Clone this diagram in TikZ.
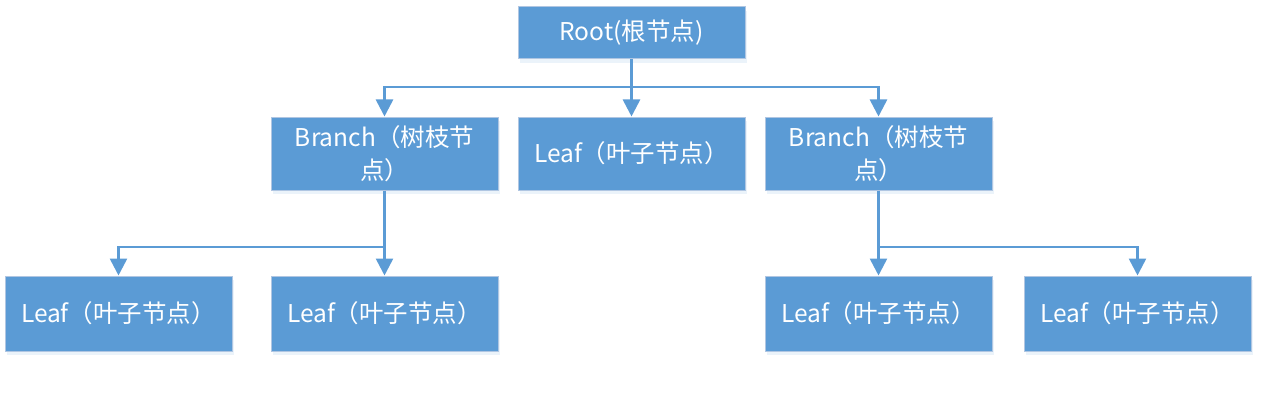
\documentclass[tikz,border=0pt]{standalone}
\usepackage{fontspec}
\setmainfont{Noto Sans CJK SC}
\usetikzlibrary{arrows.meta,shadows}
\definecolor{boxblue}{HTML}{5B9BD5}
\definecolor{boxedge}{HTML}{B0C6E2}
\begin{document}
\begin{tikzpicture}[x=1pt,y=-1pt,
  box/.style={fill=boxblue,draw=boxedge,line width=1pt,minimum width=227pt,
    text=white,align=center,inner sep=0pt,
    font=\fontsize{24.5}{33}\selectfont,
    drop shadow={opacity=0.12,shadow xshift=1.5pt,shadow yshift=-4pt,fill=boxblue}},
  rootbox/.style={box,minimum height=52pt},
  midbox/.style={box,minimum height=73pt},
  lowbox/.style={box,minimum height=75pt},
  conn/.style={draw=boxblue,line width=2.6pt},
  arr/.style={conn,-{Triangle[width=17pt,length=17pt]}}]
\useasboundingbox (0,0) rectangle (1278,404);
\node[rootbox] (root) at (631.5,33) {Root(根节点)};
\node[midbox] (b1) at (384.5,153.5) {Branch（树枝节\\点）};
\node[midbox] (lm) at (631.5,153.5) {Leaf（叶子节点）};
\node[midbox] (b2) at (878.5,153.5) {Branch（树枝节\\点）};
\node[lowbox] (l1) at (118.5,313.5) {Leaf（叶子节点）};
\node[lowbox] (l2) at (384.5,313.5) {Leaf（叶子节点）};
\node[lowbox] (l3) at (878.5,313.5) {Leaf（叶子节点）};
\node[lowbox] (l4) at (1137.5,313.5) {Leaf（叶子节点）};
\coordinate (j1) at (631.5,87);
\coordinate (j2) at (384.5,247);
\coordinate (j3) at (878.5,247);
\draw[arr] (root.south) -- (lm.north);
\draw[arr] (j1) -| (b1.north);
\draw[arr] (j1) -| (b2.north);
\draw[arr] (b1.south) -- (l2.north);
\draw[arr] (j2) -| (l1.north);
\draw[arr] (b2.south) -- (l3.north);
\draw[arr] (j3) -| (l4.north);
\end{tikzpicture}
\end{document}
